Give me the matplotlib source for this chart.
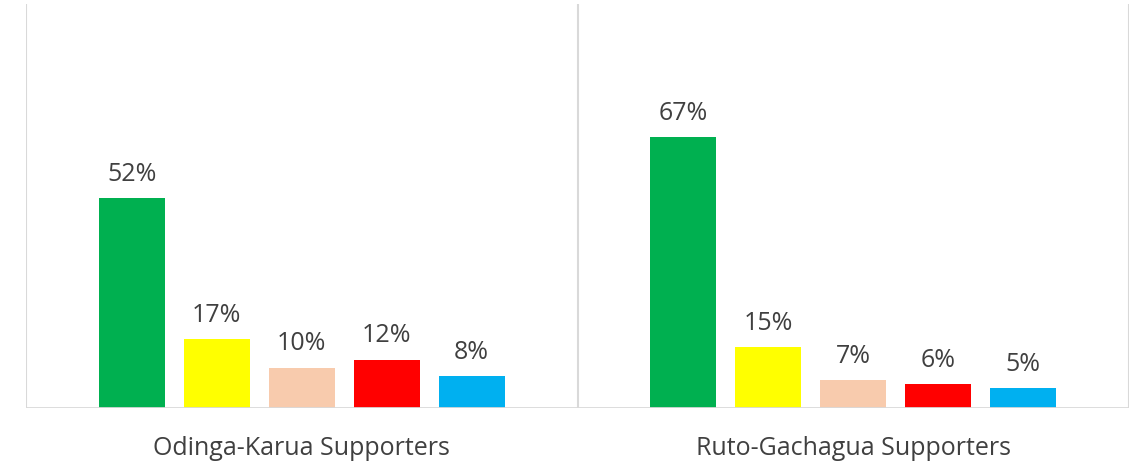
import matplotlib.pyplot as plt
import numpy as np

groups = ['Odinga-Karua Supporters', 'Ruto-Gachagua Supporters']
series_colors = ['#00B050', '#FFFF00', '#F8CBAD', '#FF0000', '#00B0F0']
values = [
    [52, 17, 10, 12, 8],
    [67, 15, 7, 6, 5],
]

plt.rcParams['font.family'] = ['Open Sans', 'DejaVu Sans']

fig = plt.figure(figsize=(11.4, 4.69), dpi=100)
ax = fig.add_axes([26 / 1140, 1 - 408 / 469, 1103 / 1140, 404 / 469])

x = np.arange(len(groups))
step = 0.154
width = 0.12
for i, col in enumerate(series_colors):
    vals = [v[i] for v in values]
    pos = x + (i - 2) * step
    ax.bar(pos, vals, width=width, color=col, zorder=3)
    for p, v in zip(pos, vals):
        ax.annotate(f'{v}%', (p, v), xytext=(0, 8), textcoords='offset points',
                    ha='center', va='bottom', fontsize=18, color='#404040')

ax.set_xlim(-0.5, 1.5)
ax.set_ylim(0, 100)
for xv in [-0.5, 0.5, 1.5]:
    ax.axvline(xv, color='#D9D9D9', lw=1.5, zorder=1)
ax.axhline(0, color='#D9D9D9', lw=2, zorder=4)

for s in ax.spines.values():
    s.set_visible(False)
ax.set_yticks([])
ax.set_xticks(x)
ax.set_xticklabels(groups, fontsize=18, color='#404040')
ax.tick_params(axis='x', length=0, pad=20)

fig.savefig('out.png', dpi=100)
